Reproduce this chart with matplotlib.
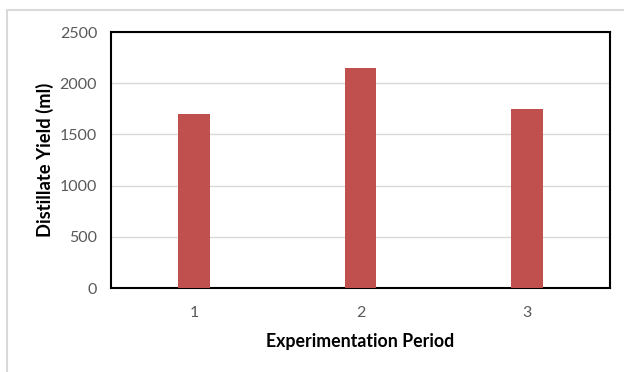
import matplotlib
matplotlib.use("Agg")
import matplotlib.pyplot as plt
from matplotlib.lines import Line2D

periods = ["1", "2", "3"]
yields = [1700, 2150, 1750]

plt.rcParams['font.family'] = ['Lato', 'DejaVu Sans']

W, H = 624, 372
fig = plt.figure(figsize=(W / 100, H / 100), dpi=100)
ax = fig.add_axes([111 / W, 1 - 288 / H, (610 - 111) / W, (288 - 32) / H])

x = range(len(periods))
ax.bar(x, yields, width=0.19, color="#C0504D", zorder=3)

ax.set_xlim(-0.5, len(periods) - 0.5)
ax.set_ylim(0, 2500)
ax.set_yticks(range(0, 2501, 500))
ax.set_xticks(list(x))
ax.set_xticklabels(periods)
ax.grid(axis="y", color="#D9D9D9", linewidth=1, zorder=0)
ax.tick_params(length=0, labelsize=11.5, labelcolor="#595959")
ax.tick_params(axis="y", pad=10)
ax.tick_params(axis="x", pad=13)

for s in ax.spines.values():
    s.set_color("black")
    s.set_linewidth(1.5)

ax.set_xlabel("Experimentation Period", fontsize=12.8, fontweight="bold", labelpad=9)
ax.set_ylabel("Distillate Yield (ml)", fontsize=13.2, fontweight="bold", labelpad=4)

# outer chart-area border
fig.add_artist(Line2D([6.5 / W, 6.5 / W, 1], [0, 1 - 9.5 / H, 1 - 9.5 / H],
                      transform=fig.transFigure, color="#D9D9D9", linewidth=1.5))

fig.savefig("out.png", dpi=100)
